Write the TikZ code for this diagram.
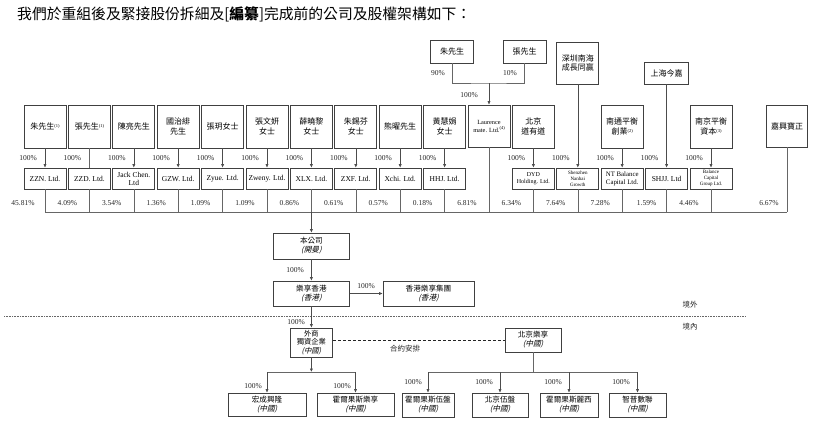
\documentclass[tikz,border=0pt]{standalone}
\usepackage{fontspec}
\setmainfont{Liberation Serif}
\newfontfamily\cjk{Noto Sans CJK TC}
\newfontfamily\cjkit[FakeSlant=0.25]{Noto Sans CJK TC}
\usetikzlibrary{arrows.meta}
\newcommand{\sq}[1]{{\rmfamily\fontsize{4.5}{5}\selectfont\raisebox{2.4pt}{#1}}}
\newcommand{\stdcol}[7]{%
  \node[topbox] (t#1) at (#2,126.5) {#3};
  \node[ltdbox,#7] (l#1) at (#2,178.5) {#4};
  \draw[#6] (t#1) -- (l#1);
  \node[lbl] (h#1) at (#2-17,158) {100\%};
  \coordinate (b#1) at (#2,212);
  \draw[conn] (l#1) -- (b#1);
  \node[lbl] (p#1) at (#2-22,203) {#5};
}
\begin{document}
\begin{tikzpicture}[x=1pt,y=-1pt,
  topbox/.style={draw=black!75, line width=0.7pt, minimum width=42pt, minimum height=43pt, inner sep=1pt, align=center, font=\cjk\fontsize{8}{9.8}\selectfont},
  ltdbox/.style={draw=black!75, line width=0.7pt, minimum width=42pt, minimum height=21pt, inner sep=0.5pt, align=center, font=\fontsize{7.5}{8}\selectfont},
  midbox/.style={draw=black!75, line width=0.7pt, inner sep=1pt, align=center, font=\cjk\fontsize{7.6}{9}\selectfont},
  lbl/.style={font=\fontsize{7.5}{8}\selectfont, inner sep=0pt, text=black!85},
  cjklbl/.style={font=\cjk\fontsize{7.5}{8}\selectfont, inner sep=0pt, text=black!85},
  arr/.style={draw=black!70, line width=0.6pt, -{Latex[length=3.5pt,width=3.2pt]}},
  conn/.style={draw=black!60, line width=0.6pt},
  dotline/.style={draw=black!60, line width=0.5pt, dash pattern=on 0.6pt off 1pt},
  dashline/.style={draw=black!85, line width=0.6pt, dash pattern=on 3pt off 2pt}]
\useasboundingbox (0,0) rectangle (830,426);

% title
\node[anchor=west, inner sep=0pt, font=\cjk\fontsize{14.8}{16}\selectfont] (title) at (17,14)
  {我們於重組後及緊接股份拆細及[{\bfseries 編纂}]完成前的公司及股權架構如下：};

% regular columns
\stdcol{0}{45}{朱先生\sq{(1)}}{ZZN. Ltd.}{45.81\%}{arr}{}
\stdcol{1}{89.4}{張先生\sq{(1)}}{ZZD. Ltd.}{4.09\%}{conn}{}
\stdcol{2}{133.8}{陳亮先生}{Jack Chen.\\Ltd}{3.54\%}{arr}{}
\stdcol{3}{178.2}{國治緋\\先生}{GZW. Ltd.}{1.36\%}{arr}{}
\stdcol{4}{222.6}{張玥女士}{Zyue. Ltd.}{1.09\%}{arr}{}
\stdcol{5}{267}{張文妍\\女士}{Zweny. Ltd.}{1.09\%}{arr}{}
\stdcol{6}{311.4}{薛曉黎\\女士}{XLX. Ltd.}{0.86\%}{arr}{}
\stdcol{7}{355.8}{朱錫芬\\女士}{ZXF. Ltd.}{0.61\%}{arr}{}
\stdcol{8}{400.2}{熊曜先生}{Xchi. Ltd.}{0.57\%}{arr}{}
\stdcol{9}{444.6}{黃慧娟\\女士}{HHJ. Ltd.}{0.18\%}{arr}{}
\stdcol{11}{533.4}{北京\\道有道}{DYD\\Holding. Ltd.}{6.34\%}{arr}{font=\fontsize{6}{7}\selectfont}
\stdcol{13}{622.2}{南通平衡\\創業\sq{(2)}}{NT Balance\\Capital Ltd.}{7.28\%}{arr}{font=\fontsize{6.8}{8}\selectfont}
\stdcol{15}{711}{南京平衡\\資本\sq{(3)}}{Balance\\Capital\\Group Ltd.}{4.46\%}{arr}{font=\fontsize{5}{6}\selectfont}

% Laurence column
\node[topbox, minimum height=42pt, font=\fontsize{6.3}{8}\selectfont] (t10) at (489,126) {Laurence\\mate. Ltd.\sq{(4)}};
\coordinate (b10) at (489,212);
\draw[conn] (t10) -- (b10);
\node[lbl] (p10) at (467,203) {6.81\%};
\node[topbox, minimum height=23pt, minimum width=43pt] (zhu) at (452,51.5) {朱先生};
\node[topbox, minimum height=23pt, minimum width=43pt] (zhang) at (524.5,51.5) {張先生};
\coordinate (j1) at (489,83);
\draw[conn] (zhu) |- (j1) -| (zhang);
\draw[arr] (j1) -- (t10);
\node[lbl] (l90) at (438,73) {90\%};
\node[lbl] (l10) at (510,73) {10\%};
\node[lbl] (l100) at (469,95) {100\%};

% Shenzhen column
\node[topbox, minimum height=42pt] (t12) at (577.8,63) {深圳南海\\成長同贏};
\node[ltdbox, font=\fontsize{5}{6}\selectfont] (l12) at (577.8,178.5) {Shenzhen\\Nanhai\\Growth};
\draw[arr] (t12) -- (l12);
\node[lbl] (h12) at (560.8,158) {100\%};
\coordinate (b12) at (577.8,212);
\draw[conn] (l12) -- (b12);
\node[lbl] (p12) at (555.8,203) {7.64\%};

% Shanghai column
\node[topbox, minimum height=22pt, minimum width=44pt] (t14) at (666.6,73) {上海今嘉};
\node[ltdbox] (l14) at (666.6,178.5) {SHJJ. Ltd};
\draw[arr] (t14) -- (l14);
\node[lbl] (h14) at (649.6,158) {100\%};
\coordinate (b14) at (666.6,212);
\draw[conn] (l14) -- (b14);
\node[lbl] (p14) at (646.6,203) {1.59\%};

% Jiaxing column
\node[topbox, minimum height=42pt, minimum width=41pt] (t16) at (787,126) {嘉興寶正};
\coordinate (b16) at (787,212);
\draw[conn] (t16) -- (b16);
\node[lbl] (p16) at (769,203) {6.67\%};

% horizontal collector
\draw[conn] (b0) -- (b16);

% company chain
\node[midbox, minimum width=76pt, minimum height=26pt] (co) at (311.4,246) {本公司\\{\cjkit (開曼)}};
\draw[arr] (b6) -- (co);
\node[midbox, minimum width=76pt, minimum height=25pt] (hk) at (311.4,293.5) {樂享香港\\{\cjkit (香港)}};
\draw[arr] (co) -- (hk);
\node[lbl] (lco) at (295,270) {100\%};
\node[midbox, minimum width=91pt, minimum height=25pt] (hkg) at (428.5,293.5) {香港樂享集團\\{\cjkit (香港)}};
\draw[arr] (hk) -- (hkg);
\node[lbl] (lhkg) at (366,286) {100\%};

% border line
\coordinate (d1) at (4,316);
\coordinate (d2) at (745,316);
\draw[dotline] (d1) -- (d2);
\node[cjklbl] (out) at (690,305) {境外};
\node[cjklbl] (in) at (690,327) {境內};

% WFOE
\node[midbox, minimum width=42pt, minimum height=29pt, font=\cjk\fontsize{7.3}{8.8}\selectfont] (wfoe) at (311.4,342.5) {外商\\獨資企業\\{\cjkit (中國)}};
\draw[arr] (hk) -- (wfoe);
\node[lbl] (lwf) at (296,322) {100\%};

\node[midbox, minimum width=56pt, minimum height=24pt] (bj) at (533,340) {北京樂享\\{\cjkit (中國)}};
\draw[dashline] (wfoe.east |- bj.west) -- (bj.west);
\node[cjklbl] (vie) at (405,349) {合約安排};

% WFOE subsidiaries
\coordinate (w1) at (311.4,372);
\coordinate (w1l) at (267,372);
\coordinate (w1r) at (355.5,372);
\draw[conn] (w1l) -- (w1r);
\draw[arr] (wfoe) -- (w1);
\node[midbox, minimum width=78pt, minimum height=23pt] (s1) at (267,404.5) {宏成興隆\\{\cjkit (中國)}};
\node[midbox, minimum width=77pt, minimum height=23pt] (s2) at (355.5,404.5) {霍爾果斯樂享\\{\cjkit (中國)}};
\draw[arr] (w1l) -- (s1);
\draw[arr] (w1r) -- (s2);
\node[lbl] (ls1) at (253,386) {100\%};
\node[lbl] (ls2) at (342,386) {100\%};

% Beijing Lexiang subsidiaries
\coordinate (k1) at (533,372);
\coordinate (k1l) at (428,372);
\coordinate (k1r) at (637.5,372);
\coordinate (k2) at (500,372);
\coordinate (k3) at (569,372);
\draw[conn] (bj) -- (k1);
\draw[conn] (k1l) -- (k1r);
\node[midbox, minimum width=52pt, minimum height=24pt] (v1) at (428,405) {霍爾果斯伍盤\\{\cjkit (中國)}};
\node[midbox, minimum width=56pt, minimum height=24pt] (v2) at (500,405) {北京伍盤\\{\cjkit (中國)}};
\node[midbox, minimum width=58pt, minimum height=24pt] (v3) at (569,405) {霍爾果斯麗西\\{\cjkit (中國)}};
\node[midbox, minimum width=57pt, minimum height=24pt] (v4) at (637.5,405) {智普數聯\\{\cjkit (中國)}};
\draw[arr] (k1l) -- (v1);
\draw[arr] (k2) -- (v2);
\draw[arr] (k3) -- (v3);
\draw[arr] (k1r) -- (v4);
\node[lbl] (lv1) at (413,382) {100\%};
\node[lbl] (lv2) at (484,382) {100\%};
\node[lbl] (lv3) at (553,382) {100\%};
\node[lbl] (lv4) at (621,382) {100\%};
\end{tikzpicture}
\end{document}
